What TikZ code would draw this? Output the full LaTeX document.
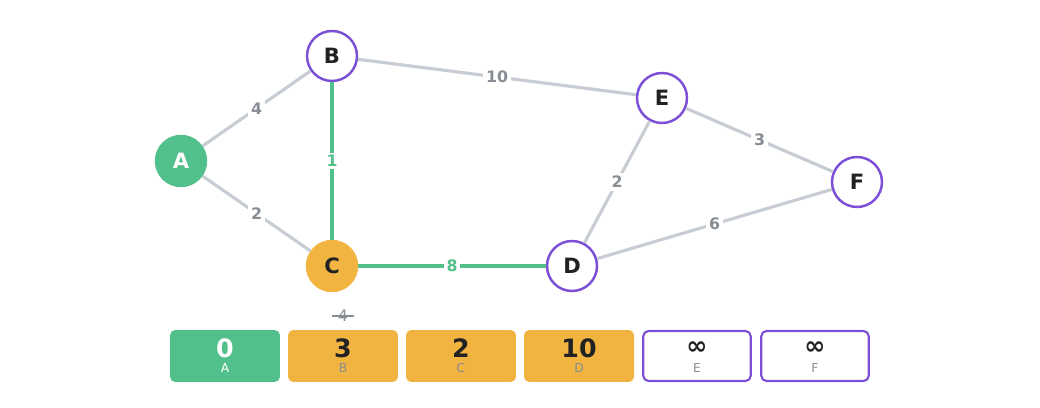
\documentclass[tikz,border=0pt]{standalone}
\usepackage{fontspec}
\setmainfont{DejaVu Sans}
\definecolor{vert}{HTML}{52C08A}
\definecolor{orange}{HTML}{F2B441}
\definecolor{violet}{HTML}{7B4FD6}
\definecolor{arete}{HTML}{C8CDD4}
\definecolor{gris}{HTML}{888D94}
\definecolor{encre}{HTML}{222222}
\begin{document}
\begin{tikzpicture}[x=0.02cm,y=-0.02cm]
	\tikzset{noeud/.style={circle, draw=violet, line width=1.4pt, fill=white, minimum size=1cm, inner sep=0pt, font=\bfseries\large, text=encre},
		fait/.style={noeud, draw=vert, fill=vert, text=white},
		ouvert/.style={noeud, draw=orange, fill=orange, text=encre},
		arc/.style={arete, line width=1.8pt},
		chemin/.style={vert, line width=2.2pt},
		poids/.style={fill=white, inner sep=1.5pt, font=\bfseries\small, text=gris},
		case/.style={rounded corners=3pt, minimum width=2.2cm, minimum height=1.04cm, inner sep=0pt},
		valeur/.style={font=\bfseries\Large}};
	\useasboundingbox (0,0) rectangle (1040,408);

	\node[fait]   (A) at (181, 161) {A};
	\node[noeud]  (B) at (332,  56) {B};
	\node[ouvert] (C) at (332, 266) {C};
	\node[noeud]  (D) at (572, 266) {D};
	\node[noeud]  (E) at (662,  98) {E};
	\node[noeud]  (F) at (857, 182) {F};

	\draw[arc] (A) -- node[poids] {4} (B);
	\draw[arc] (A) -- node[poids] {2} (C);
	\draw[arc] (B) -- node[poids] {10} (E);
	\draw[arc] (E) -- node[poids] {2} (D);
	\draw[arc] (E) -- node[poids] {3} (F);
	\draw[arc] (D) -- node[poids] {6} (F);
	\draw[chemin] (B) -- node[poids, text=vert] {1} (C);
	\draw[chemin] (C) -- node[poids, text=vert] {8} (D);

	% tableau des distances
	\node[case, fill=vert]   (tA) at (225, 356) {};
	\node[case, fill=orange] (tB) at (343, 356) {};
	\node[case, fill=orange] (tC) at (461, 356) {};
	\node[case, fill=orange] (tD) at (579, 356) {};
	\node[case, draw=violet, line width=1.2pt, minimum width=2.15cm, minimum height=1cm] (tE) at (697, 356) {};
	\node[case, draw=violet, line width=1.2pt, minimum width=2.15cm, minimum height=1cm] (tF) at (815, 356) {};

	\node[valeur, text=white] at (225, 348) {0};
	\node[valeur, text=encre] at (343, 348) {3};
	\node[valeur, text=encre] at (461, 348) {2};
	\node[valeur, text=encre] at (579, 348) {10};
	\node[valeur, text=encre] at (697, 348) {∞};
	\node[valeur, text=encre] at (815, 348) {∞};
	\node[font=\scriptsize, text=white] at (225, 368) {A};
	\foreach \n/\x in {B/343, C/461, D/579, E/697, F/815}
		\node[font=\scriptsize, text=gris] at (\x, 368) {\n};

	\node[font=\small, text=gris] (ancien) at (343, 316) {4};
	\draw[gris, line width=0.9pt] (ancien.west) -- (ancien.east);
\end{tikzpicture}
\end{document}
